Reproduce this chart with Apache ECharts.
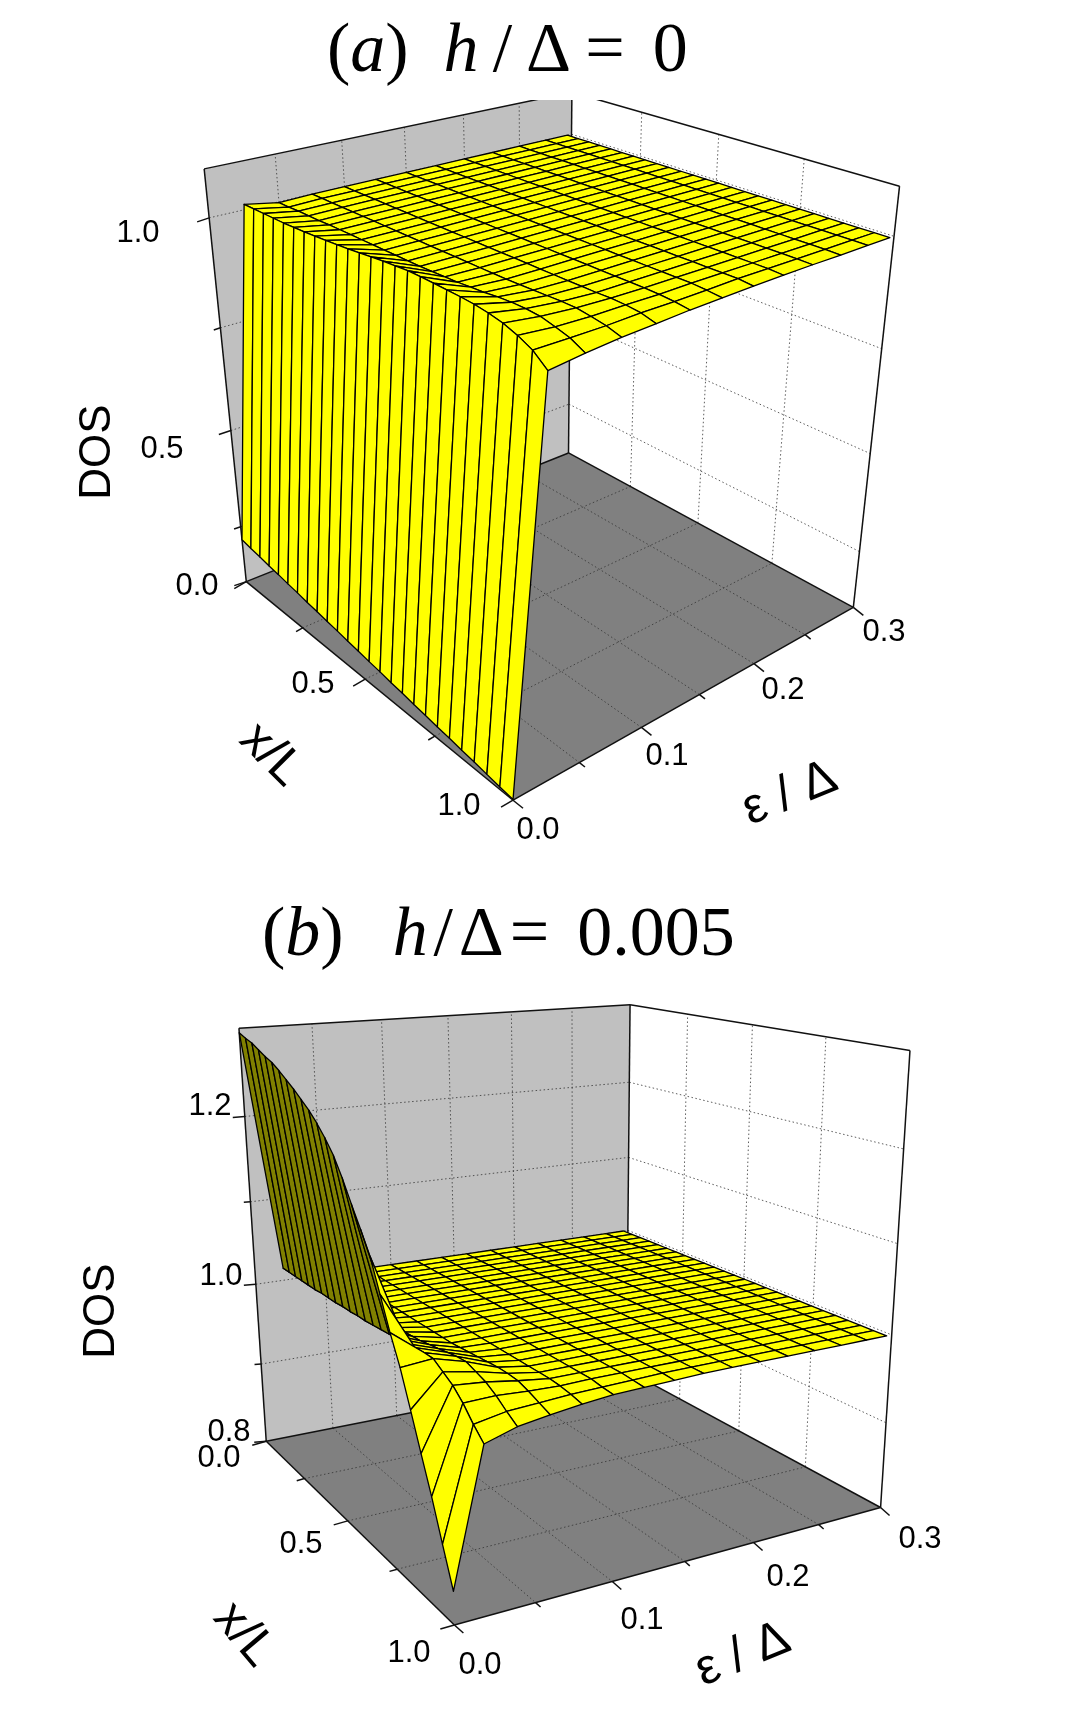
<!DOCTYPE html>
<html><head><meta charset="utf-8">
<style>html,body{margin:0;padding:0;background:#fff}#c{width:1090px;height:1709px}</style>
<script src="https://cdn.jsdelivr.net/npm/echarts@6/dist/echarts.min.js"></script>
</head><body><div id="c"></div>
<script>
// ---------- data ----------
const xValues = [0,.04,.08,.12,.16,.2,.24,.28,.32,.36,.4,.44,.48,.52,.56,.6,.64,.68,.72,.76,.8,.84,.88,.92,.96,1];
const eValuesA = [0,.025,.05,.075,.1,.125,.15,.175,.2,.225,.25,.275,.296];
const eValuesB = [0,.02,.04,.06,.08,.1,.12,.14,.16,.18,.2,.22,.24,.26,.28,.296];
// rows: x/L, columns: energy
const dosA = [
[.215,1.012,.998,1,1,1,1,1,1,1,1,1,1],
[.210,1.012,.998,1,1,1,1,1,1,1,1,1,1],
[.206,1.012,.999,1,1,1,1,1,1,1,1,1,1],
[.201,1.012,.999,1,1,1,1,1,1,1,1,1,1],
[.197,1.012,.999,1,1,1,1,1,1,1,1,1,1],
[.192,1.013,1,1,1,1,1,1,1,1,1,1,1],
[.188,1.014,1,1,1,1,1,1,1,1,1,1,1],
[.183,1.016,1,1,1,1,1,1,1,1,1,1,1],
[.179,1.018,1,1,1,1,1,1,1,1,1,1,1],
[.174,1.02,1,1,1,1,1,1,1,1,1,1,1],
[.170,1.022,1,1,1,1,1,1,1,1,1,1,1],
[.165,1.025,1,1,1,1,1,1,1,1,1,1,1],
[.161,1.028,1,1,1,1,1,1,1,1,1,1,1],
[.156,1.031,1,1,1,1,1,1,1,1,1,1,1],
[.152,1.033,1.001,1,1,1,1,1,1,1,1,1,1],
[.147,1.035,1.002,1,1,1,1,1,1,1,1,1,1],
[.143,1.035,1.003,1,1,1,1,1,1,1,1,1,1],
[.138,1.034,1.005,1,1,1,1,1,1,1,1,1,1],
[.134,1.033,1.007,1.001,1,1,1,1,1,1,1,1,1],
[.129,1.032,1.01,1.002,1,1,1,1,1,1,1,1,1],
[.125,1.03,1.012,1.003,1,1,1,1,1,1,1,1,1],
[.120,1.026,1.012,1.004,1,1,1,1,1,1,1,1,1],
[.116,1.02,1.01,1.004,1.001,1,1,1,1,1,1,1,1],
[.111,1.01,1.003,1,1,.999,1,1,1,1,1,1,1],
[.106,.996,.995,.995,.997,.997,.998,1,1,1,1,1,1],
[.102,.972,.98,.986,.989,.993,.995,.997,.998,.999,.999,1,1]
];
const dosB = [
[1.295,1.015,1,1,1,1,1,1,1,1,1,1,1,1,1,1],
[1.291,1.015,1,1,1,1,1,1,1,1,1,1,1,1,1,1],
[1.288,1.015,1,1,1,1,1,1,1,1,1,1,1,1,1,1],
[1.283,1.015,1,1,1,1,1,1,1,1,1,1,1,1,1,1],
[1.278,1.015,1,1,1,1,1,1,1,1,1,1,1,1,1,1],
[1.274,1.015,1,1,1,1,1,1,1,1,1,1,1,1,1,1],
[1.268,1.016,1,1,1,1,1,1,1,1,1,1,1,1,1,1],
[1.261,1.016,1,1,1,1,1,1,1,1,1,1,1,1,1,1],
[1.254,1.016,1,1,1,1,1,1,1,1,1,1,1,1,1,1],
[1.246,1.017,1,1,1,1,1,1,1,1,1,1,1,1,1,1],
[1.238,1.017,1.003,1,1,1,1,1,1,1,1,1,1,1,1,1],
[1.228,1.018,1.004,1,1,1,1,1,1,1,1,1,1,1,1,1],
[1.216,1.018,1.005,1,1,1,1,1,1,1,1,1,1,1,1,1],
[1.202,1.019,1.006,1,1,1,1,1,1,1,1,1,1,1,1,1],
[1.183,1.02,1.007,1,1,1,1,1,1,1,1,1,1,1,1,1],
[1.161,1.021,1.008,1,1,1,1,1,1,1,1,1,1,1,1,1],
[1.14,1.022,1.01,1.001,1,1,1,1,1,1,1,1,1,1,1,1],
[1.118,1.023,1.012,1.002,1,1,1,1,1,1,1,1,1,1,1,1],
[1.085,1.025,1.014,1.003,1,1,1,1,1,1,1,1,1,1,1,1],
[1.052,1.026,1.016,1.004,1,1,1,1,1,1,1,1,1,1,1,1],
[1.023,1.026,1.017,1.005,1,1,1,1,1,1,1,1,1,1,1,1],
[.987,1.019,1.013,1.005,1,1,1,1,1,1,1,1,1,1,1,1],
[.95,1.012,1.009,1.004,1,1,1,1,1,1,1,1,1,1,1,1],
[.914,1.001,1.002,1,.999,1,1,1,1,1,1,1,1,1,1,1],
[.874,.987,.993,.995,.997,.998,.999,1,1,1,1,1,1,1,1,1],
[.835,.975,.985,.99,.994,.997,.998,.999,1,1,1,1,1,1,1,1]
];
// axis ticks
const xTicks = [0,.25,.5,.75,1];
const xTickTextA = ['', '', '0.5', '', '1.0'];
const xTickTextB = ['0.0', '', '0.5', '', '1.0'];
const eTicks = [0,.05,.1,.15,.2,.25,.3];
const eTickText = ['0.0','', '0.1','', '0.2','', '0.3'];
// panel (a): the floor sits where the evenly spaced ticks would read 0.1, yet carries the label 0.0
const zTicksA = [.1,.25,.5,.75,1];
const zTickTextA = ['0.0','','0.5','','1.0'];
const zTicksB = [.8,.9,1,1.1,1.2];
const zTickTextB = ['0.8','','1.0','','1.2'];
const titleA = '{n|(}{i|a}{n|)  }{i|h}{n|\u2009/\u2009Δ\u2009=\u2009\u20090}';
const titleB = '{n|(}{i|b}{n|)  \u2009}{i|h}{n|\u200a/\u200aΔ\u200a=\u2009\u20090.005}';

// ---------- layout ----------
const W=1090,H=1709;
const FONT='"Liberation Sans"';
const eMax=.3;
const layoutA={
 zRange:[.1,1.106],
 calib:[[0,0,.1,246,581],[1,0,.1,513,798],[1,1,.1,853,608],[0,1,.1,568,452],
        [0,0,1.106,204,169],[0,1,1.106,573,93],[1,1,1.106,899,185],
        [0,0,.25,241,527],[0,0,.5,231,430],[0,0,.75,219.5,328],[0,0,1,209,218],
        [.5,0,.1,366,681],[1,.5,.1,700,696]],
 zTickDir:[-12,4], xTickDir:[-12,7], eTickDir:[10,8],
 zLabel:[[197,586],[0,0],[162,449],[0,0],[138,233]],
 xLabel:[[0,0],[0,0],[313,684],[0,0],[459,806]],
 eLabel:[[538,830],[0,0],[667,756],[0,0],[783,690],[0,0],[884,632]],
 names:[{t:'DOS',x:98,y:452,r:90,s:44},{t:'x/L',x:271,y:755,r:-45,s:50},{t:'ε / Δ',x:790,y:794,r:22,s:50}]
};
const layoutB={
 zRange:[.8,1.3],
 calib:[[0,0,.8,265.7,1441],[1,0,.8,455,1625],[1,1,.8,880,1508],[0,1,.8,627,1370],
        [0,0,1.3,240,1028],[0,1,1.3,630,1005],[1,1,1.3,910,1050],
        [0,0,1.2,243.5,1117],[0,0,1.1,250,1202],[0,0,1,256.5,1284]],
 zTickDir:[-12,1], xTickDir:[-14,4], eTickDir:[9,8],
 zLabel:[[229,1432],[0,0],[221,1276],[0,0],[210,1106]],
 xLabel:[[219,1458],[0,0],[301,1544],[0,0],[409,1653]],
 eLabel:[[480,1665],[0,0],[642,1620],[0,0],[788,1577],[0,0],[920,1539]],
 names:[{t:'DOS',x:102,y:1311,r:90,s:44},{t:'x/L',x:244,y:1635,r:-50,s:50},{t:'ε / Δ',x:743,y:1655,r:22,s:50}]
};

// ---------- perspective fitted to the picture's cube ----------
function fitCamera(calib,zr){
  const A=Array.from({length:11},()=>new Array(12).fill(0));
  const add=(row,b)=>{for(let a=0;a<11;a++){for(let c=0;c<11;c++)A[a][c]+=row[a]*row[c];A[a][11]+=row[a]*b;}};
  calib.forEach(([s,t,z,u,v])=>{
    const r=(z-zr[0])/(zr[1]-zr[0]);u/=1000;v/=1000;
    add([s,t,r,1,0,0,0,0,-u*s,-u*t,-u*r],u);
    add([0,0,0,0,s,t,r,1,-v*s,-v*t,-v*r],v);
  });
  for(let c=0;c<11;c++){
    let p=c;for(let a=c+1;a<11;a++)if(Math.abs(A[a][c])>Math.abs(A[p][c]))p=a;
    [A[c],A[p]]=[A[p],A[c]];
    for(let a=0;a<11;a++){if(a===c)continue;const f=A[a][c]/A[c][c];for(let k=c;k<12;k++)A[a][k]-=f*A[c][k];}
  }
  const m=A.map((row,i)=>row[11]/row[i]);
  return (s,t,z)=>{
    const r=(z-zr[0])/(zr[1]-zr[0]);
    const d=m[8]*s+m[9]*t+m[10]*r+1;
    return [1000*(m[0]*s+m[1]*t+m[2]*r+m[3])/d,1000*(m[4]*s+m[5]*t+m[6]*r+m[7])/d];
  };
}

function panel(L,dos,xs,es,zTicks,zText,xText){
  const P=fitCamera(L.calib,L.zRange), z0=L.zRange[0], z1=L.zRange[1];
  const base={type:'custom',coordinateSystem:'cartesian2d',silent:true,animation:false,progressive:0};
  const pt=(api,p)=>api.coord(p);
  const walls=[
    {c:[[0,0,z0],[0,1,z0],[0,1,z1],[0,0,z1]],f:'#c0c0c0'},
    {c:[[0,1,z0],[1,1,z0],[1,1,z1],[0,1,z1]],f:'#ffffff'},
    {c:[[0,0,z0],[1,0,z0],[1,1,z0],[0,1,z0]],f:'#808080'}];
  const wallSeries=Object.assign({},base,{z:1,data:walls.map((_,i)=>[i]),
    renderItem:(p,api)=>{const w=walls[api.value(0)];
      return {type:'polygon',shape:{points:w.c.map(q=>pt(api,P(q[0],q[1],q[2])))},style:{fill:w.f,stroke:null}};}});
  const segs=[];
  const xi=xTicks.slice(1,-1), ei=eTicks.slice(1,-1).map(e=>e/eMax), zi=zTicks.slice(1);
  xi.forEach(x=>{segs.push([x,0,z0,x,1,z0]);segs.push([x,1,z0,x,1,z1]);});
  ei.forEach(e=>{segs.push([0,e,z0,1,e,z0]);segs.push([0,e,z0,0,e,z1]);});
  zi.forEach(z=>{segs.push([0,0,z,0,1,z]);segs.push([0,1,z,1,1,z]);});
  const gridSeries=Object.assign({},base,{z:2,data:segs,
    renderItem:(p,api)=>{const a=pt(api,P(api.value(0),api.value(1),api.value(2))),b=pt(api,P(api.value(3),api.value(4),api.value(5)));
      return {type:'line',shape:{x1:a[0],y1:a[1],x2:b[0],y2:b[1]},style:{stroke:'#333',lineWidth:.8,lineDash:[1.5,2.5]}};}});
  const frame=[[0,0,z0,1,0,z0],[1,0,z0,1,1,z0],[1,1,z0,0,1,z0],[0,1,z0,0,0,z0],
    [0,0,z0,0,0,z1],[0,1,z0,0,1,z1],[1,1,z0,1,1,z1],[0,0,z1,0,1,z1],[0,1,z1,1,1,z1]];
  const frameSeries=Object.assign({},base,{z:3,data:frame,
    renderItem:(p,api)=>{const a=pt(api,P(api.value(0),api.value(1),api.value(2))),b=pt(api,P(api.value(3),api.value(4),api.value(5)));
      return {type:'line',shape:{x1:a[0],y1:a[1],x2:b[0],y2:b[1]},style:{stroke:'#111',lineWidth:1.5}};}});
  const ticks=[];
  eTicks.forEach((e,i)=>ticks.push([e/eMax,1,z0,0,eTickText[i]?1:0]));
  xTicks.forEach((x,i)=>ticks.push([x,0,z0,1,i%2?0:1]));
  zTicks.forEach((z,i)=>ticks.push([0,0,z,2,i%2?0:1]));
  const dirs=[L.eTickDir,L.xTickDir,L.zTickDir];
  const tickSeries=Object.assign({},base,{z:3,data:ticks,
    renderItem:(p,api)=>{const k=api.value(3),f=api.value(4)?1:.55,d=dirs[k];
      const q=k===0?P(1,api.value(0),z0):P(api.value(0),0,api.value(2));
      const a=pt(api,q),b=pt(api,[q[0]+d[0]*f,q[1]+d[1]*f]);
      return {type:'line',shape:{x1:a[0],y1:a[1],x2:b[0],y2:b[1]},style:{stroke:'#111',lineWidth:1.5}};}});
  const cells=[];
  for(let i=0;i<xs.length-1;i++)for(let j=es.length-2;j>=0;j--)cells.push([i,j]);
  const surf=Object.assign({},base,{z:4,data:cells,
    renderItem:(p,api)=>{const i=api.value(0),j=api.value(1);
      const q=[[i,j],[i+1,j],[i+1,j+1],[i,j+1]].map(c=>pt(api,P(xs[c[0]],es[c[1]]/eMax,dos[c[0]][c[1]])));
      let a=0;q.forEach((u,n)=>{const v=q[(n+1)%4];a+=u[0]*v[1]-v[0]*u[1];});
      return {type:'polygon',shape:{points:q},style:{fill:a<0?'#ffff00':'#808000',stroke:'#000',lineWidth:1.3,lineJoin:'round'}};}});
  const texts=[];
  zText.forEach((t,i)=>{if(t)texts.push({t,x:L.zLabel[i][0],y:L.zLabel[i][1],r:0,s:31});});
  xText.forEach((t,i)=>{if(t)texts.push({t,x:L.xLabel[i][0],y:L.xLabel[i][1],r:0,s:31});});
  eTickText.forEach((t,i)=>{if(t)texts.push({t,x:L.eLabel[i][0],y:L.eLabel[i][1],r:0,s:31});});
  L.names.forEach(n=>texts.push(n));
  const textSeries=Object.assign({},base,{z:6,data:texts.map((t,i)=>[i]),
    renderItem:(p,api)=>{const t=texts[api.value(0)],c=api.coord([t.x,t.y]);
      return {type:'text',x:c[0],y:c[1],rotation:t.r*Math.PI/180,
        style:{text:t.t,fill:'#000',font:t.s+'px '+FONT,align:'center',verticalAlign:'middle',textAlign:'center',textVerticalAlign:'middle'}};}});
  return [wallSeries,gridSeries,frameSeries,tickSeries,surf,textSeries];
}

const serif='"Liberation Serif"';
const rich={n:{fontFamily:serif,fontWeight:'normal',fontSize:70,color:'#000'},i:{fontFamily:serif,fontStyle:'italic',fontWeight:'normal',fontSize:70,color:'#000'}};
const chart=echarts.init(document.getElementById('c'),null,{renderer:'canvas'});
chart.setOption({
  animation:false,backgroundColor:'#fff',
  title:[
    {text:titleA,left:322,top:13,z:20,textStyle:{rich}},
    {text:titleB,left:257,top:897,z:20,textStyle:{rich}}
  ],
  grid:{left:0,top:0,width:W,height:H,containLabel:false,show:false},
  xAxis:{type:'value',min:0,max:W,show:false},
  yAxis:{type:'value',min:0,max:H,inverse:true,show:false},
  graphic:{elements:[{type:'rect',z:5,silent:true,shape:{x:0,y:0,width:W,height:100},style:{fill:'#fff'}}]},
  series:[...panel(layoutA,dosA,xValues,eValuesA,zTicksA,zTickTextA,xTickTextA),
          ...panel(layoutB,dosB,xValues,eValuesB,zTicksB,zTickTextB,xTickTextB)]
});
</script></body></html>
